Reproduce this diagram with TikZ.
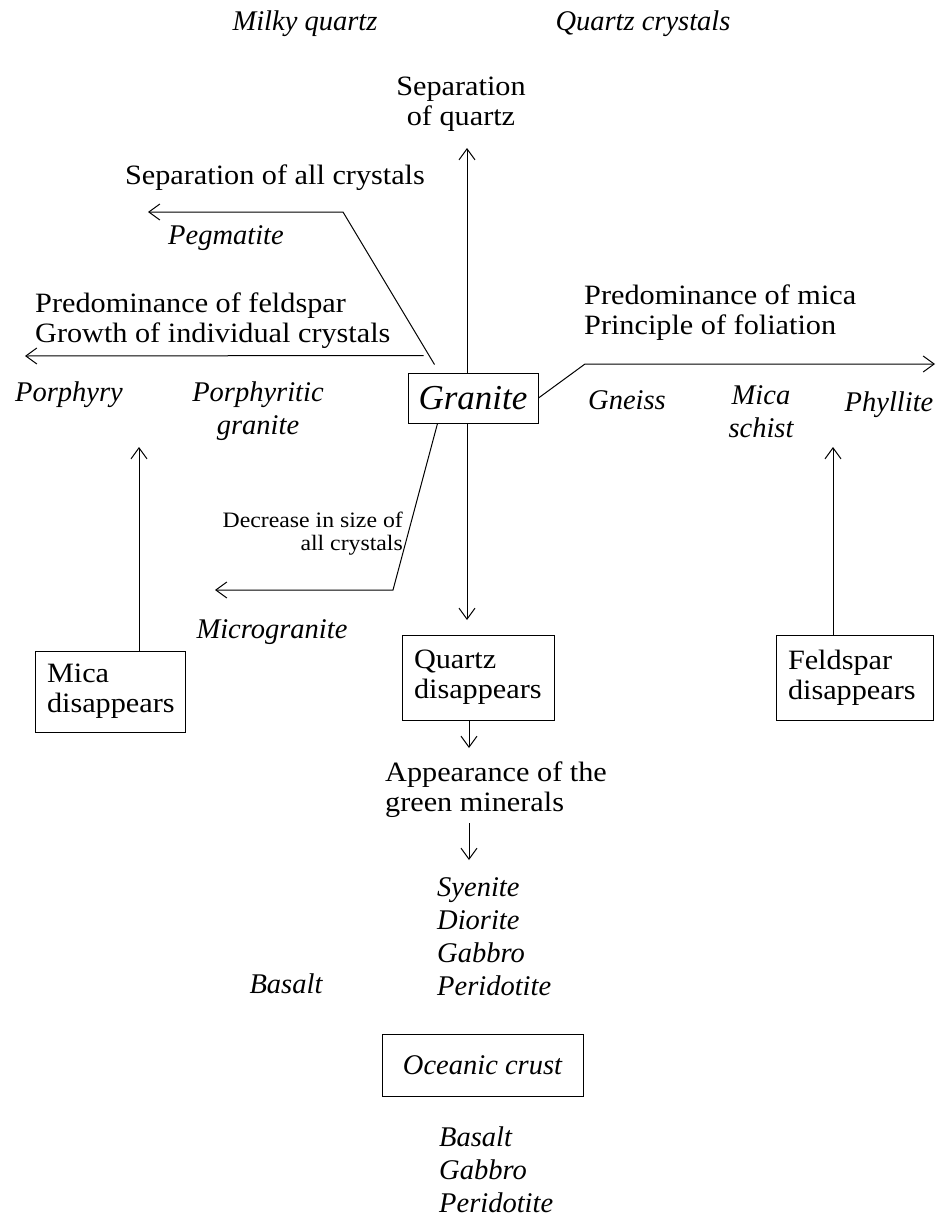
\documentclass[tikz,border=0pt]{standalone}
\usepackage{fontspec}
\setmainfont{Liberation Serif}[UprightFeatures={FakeStretch=1.08}]
\usetikzlibrary{arrows.meta}
\newcommand{\mainsize}{\fontsize{28}{30}\selectfont}
\newcommand{\rocksize}{\fontsize{28.5}{33}\selectfont\itshape}
\newcommand{\smallsize}{\fontsize{22}{23}\selectfont}
\tikzset{
  txt/.style={font=\mainsize, inner sep=0pt},
  rock/.style={font=\rocksize, inner sep=0pt},
  box/.style={draw, line width=1pt, font=\mainsize, align=left, inner xsep=12pt, inner ysep=0pt},
  arr/.style={line width=1pt, -{Straight Barb[length=11pt,width=16pt]}}
}
\begin{document}
\begin{tikzpicture}[x=1pt, y=-1pt]
\useasboundingbox (0,0) rectangle (941,1218);

\node (milky) [rock] at (305,24) {Milky quartz};
\node (qcrystals) [rock] at (643,24) {Quartz crystals};
\node (sepquartz) [txt, align=center] at (461,104) {Separation\\of quartz};
\node (sepall) [txt] at (275,178) {Separation of all crystals};
\node (pegmatite) [rock] at (226,238) {Pegmatite};
\node (feldspar) [txt, align=left, anchor=west] at (35,321) {Predominance of feldspar\\Growth of individual crystals};
\node (porphyry) [rock] at (69,395) {Porphyry};
\node (porphyritic) [rock, align=center] at (258,411) {Porphyritic\\granite};
\node (granite) [draw, line width=1pt, font=\fontsize{35}{36}\selectfont\itshape, minimum width=130pt, minimum height=50pt] at (473,398) {Granite};
\node (micatxt) [txt, align=left, anchor=west] at (584,313) {Predominance of mica\\Principle of foliation};
\node (gneiss) [rock] at (627,400) {Gneiss};
\node (schist) [rock, align=center] at (761,412) {Mica\\schist};
\node (phyllite) [rock] at (889,405) {Phyllite};
\node (decrease) [font=\smallsize, inner sep=0pt, align=right, anchor=east] at (403,534) {Decrease in size of\\all crystals};
\node (micro) [rock] at (272,632) {Microgranite};

\node (micagone) [box, text width=126pt, minimum height=81pt] at (110,691.5) {Mica\\disappears};
\node (quartzgone) [box, text width=128pt, minimum height=85pt] at (478,677.5) {Quartz\\disappears};
\node (feldgone) [box, text width=133pt, minimum height=85pt] at (854.5,677.5) {Feldspar\\disappears};

\node (appear) [txt, align=left, anchor=west] at (385,790) {Appearance of the\\green minerals};
\node (plutonic) [rock, align=left, anchor=west] at (437,937) {Syenite\\Diorite\\Gabbro\\Peridotite};
\node (basalt) [rock] at (286,984) {Basalt};
\node (crust) [draw, line width=1pt, rock, minimum width=201pt, minimum height=62pt] at (482.5,1065) {Oceanic crust};
\node (crustrocks) [rock, align=left, anchor=west] at (439,1170) {Basalt\\Gabbro\\Peridotite};

% arrows out of the granite
\coordinate (quartztip) at (467,148);
\draw [arr] (granite.north -| quartztip) -- (quartztip);
\coordinate (quartzdown) at (467,620);
\draw [arr] (granite.south -| quartzdown) -- (quartzdown);
\coordinate (pegbend) at (343,212);
\coordinate (pegtip) at (148,212);
\draw [arr] ([xshift=27pt,yshift=8pt]granite.north west) -- (pegbend) -- (pegtip);
\coordinate (feldtip) at (25,356);
\draw [arr] ([xshift=16pt,yshift=17pt]granite.north west) -- (feldtip);
\coordinate (micabend) at (585,364);
\coordinate (micatip) at (935,364);
\draw [arr] (granite.east) -- (micabend) -- (micatip);
\coordinate (decbend) at (393,590);
\coordinate (dectip) at (215,590);
\draw [arr] ([xshift=30pt]granite.south west) -- (decbend) -- (dectip);

% arrows out of the boxes
\coordinate (porphtip) at (139,447);
\draw [arr] (micagone.north -| porphtip) -- (porphtip);
\coordinate (schisttip) at (833,447);
\draw [arr] (feldgone.north -| schisttip) -- (schisttip);
\coordinate (greentip) at (469,748);
\draw [arr] (quartzgone.south -| greentip) -- (greentip);
\coordinate (rocktip) at (469,860);
\draw [arr, shorten <=5pt] (appear.south -| rocktip) -- (rocktip);
\end{tikzpicture}
\end{document}
